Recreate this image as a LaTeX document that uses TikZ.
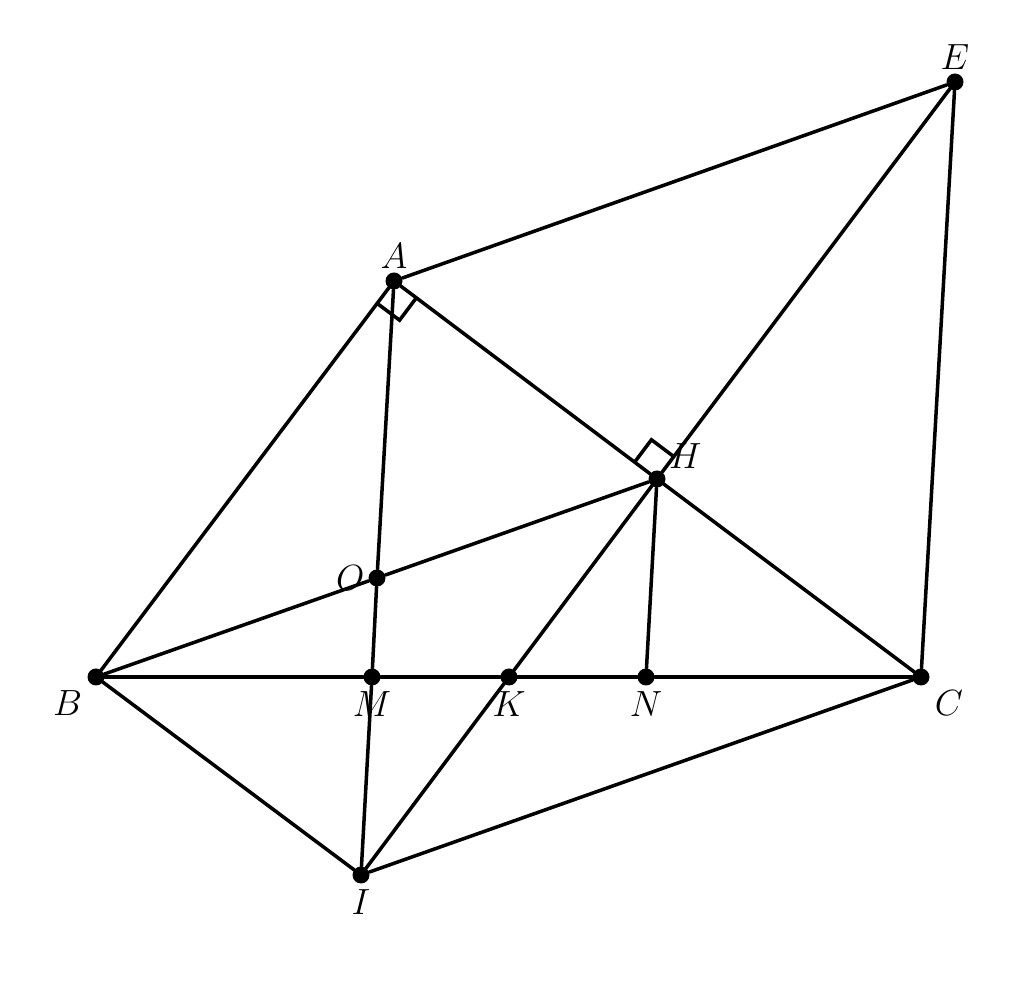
\documentclass[tikz,border=0pt]{standalone}
\usepackage{tikz}
\usetikzlibrary{calc}
\tikzstyle{Node}=[circle,fill=black,inner sep=0pt,minimum size=3.4mm]
\tikzstyle{Edge}=[draw=black,line width=2pt,line cap=round,line join=round]
\tikzstyle{Mark}=[draw=black,line width=2pt,line join=miter]
\tikzstyle{NodeLbl}=[font=\huge,inner sep=2pt]

\begin{document}
\begin{tikzpicture}
        \useasboundingbox (0,0) rectangle (20.48,19.74);
        \node[Node,label={[NodeLbl,label distance=0pt]above:$E$}](E)at(19.10,18.10){};
        \node[Node,label={[NodeLbl,label distance=0pt]above:$A$}](A)at(7.88,14.12){};
        \node[Node,label={[NodeLbl,label distance=1pt]38:$H$}](H)at(13.14,10.16){};
        \node[Node,label={[NodeLbl,label distance=0pt]left:$O$}](O)at(7.54,8.18){};
        \node[Node,label={[NodeLbl,label distance=3pt]225:$B$}](B)at(1.92,6.20){};
        \node[Node,label={[NodeLbl,label distance=1pt]below:$M$}](M)at(7.44,6.20){};
        \node[Node,label={[NodeLbl,label distance=1pt]below:$K$}](K)at(10.18,6.20){};
        \node[Node,label={[NodeLbl,label distance=1pt]below:$N$}](N)at(12.92,6.20){};
        \node[Node,label={[NodeLbl,label distance=3pt]315:$C$}](C)at(18.42,6.20){};
        \node[Node,label={[NodeLbl,label distance=1pt]below:$I$}](I)at(7.22,2.24){};
        % sides
        \draw[Edge](A)--(E);
        \draw[Edge](E)--(C);
        \draw[Edge](E)--(H);
        \draw[Edge](A)--(B);
        \draw[Edge](A)--(H);
        \draw[Edge](H)--(C);
        \draw[Edge](A)--(O);
        \draw[Edge](O)--(M);
        \draw[Edge](M)--(I);
        \draw[Edge](B)--(O);
        \draw[Edge](O)--(H);
        \draw[Edge](B)--(M);
        \draw[Edge](M)--(K);
        \draw[Edge](K)--(N);
        \draw[Edge](N)--(C);
        \draw[Edge](B)--(I);
        \draw[Edge](I)--(C);
        \draw[Edge](I)--(K);
        \draw[Edge](K)--(H);
        \draw[Edge](H)--(N);
        % right angles
        \coordinate(a1)at($(A)!0.56cm!(B)$);
        \coordinate(a2)at($(A)!0.56cm!(C)$);
        \draw[Mark](a1)--($(a1)+(a2)-(A)$)--(a2);
        \coordinate(h1)at($(H)!0.56cm!(A)$);
        \coordinate(h2)at($(H)!0.56cm!(E)$);
        \draw[Mark](h1)--($(h1)+(h2)-(H)$)--(h2);
    \end{tikzpicture}
\end{document}
